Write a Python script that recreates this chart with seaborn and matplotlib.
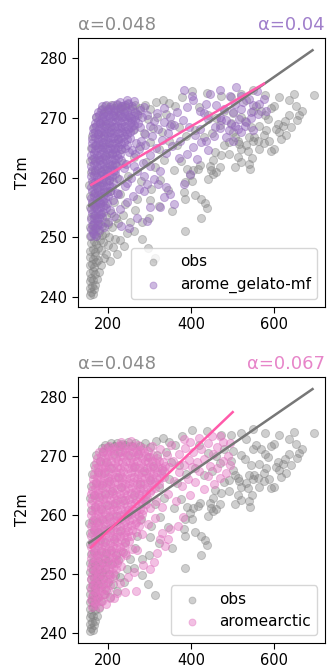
import matplotlib
matplotlib.use("Agg")
import matplotlib.pyplot as plt
import seaborn as sns
import pandas as pd

# ---------- data ----------
# observed points (same cloud in both panels): (x, T2m)
obs_pts = [
    (156, 240.4), (159, 240.9), (163, 240.6), (157, 241.6), (161, 241.9), (166, 241.4), (170, 242.1),
    (156, 242.7), (160, 243.2), (165, 242.9), (174, 243.0), (158, 244.1), (163, 244.4), (168, 243.9),
    (179, 244.2), (156, 245.3), (161, 245.6), (167, 245.1), (172, 245.8), (184, 245.4), (158, 246.7),
    (164, 246.4), (170, 246.9), (177, 246.2), (190, 246.6), (157, 247.8), (163, 248.1), (169, 247.6),
    (175, 248.3), (183, 247.9), (196, 247.3), (205, 246.1), (160, 249.1), (166, 249.4), (172, 248.9),
    (180, 249.6), (188, 249.2), (199, 248.7), (211, 248.4), (222, 247.2), (158, 250.3), (164, 250.7),
    (171, 250.2), (178, 250.9), (186, 250.4), (194, 250.8), (203, 250.1), (216, 249.8), (229, 249.5),
    (238, 248.6), (157, 251.8), (163, 252.1), (170, 251.6), (177, 252.3), (185, 251.9), (192, 252.5),
    (201, 252.2), (210, 251.7), (224, 252.4), (246, 250.8), (263, 251.1), (283, 249.8), (296, 248.3),
    (312, 246.5), (159, 253.4), (166, 253.7), (174, 253.2), (183, 253.9), (195, 253.6), (208, 254.1),
    (220, 253.2), (236, 253.8), (252, 252.6), (298, 253.3), (354, 254.4), (386, 251.1), (156, 255.1),
    (162, 255.5), (170, 255.2), (180, 255.8), (193, 255.4), (214, 255.9), (240, 255.5), (270, 256.4),
    (158, 257.0), (166, 257.4), (176, 257.1), (190, 257.6), (206, 257.8), (228, 257.3), (155, 258.7),
    (163, 259.1), (173, 258.8), (186, 259.3), (202, 259.6), (222, 259.9), (248, 260.2), (160, 260.9),
    (170, 261.3), (184, 261.0), (198, 261.7), (216, 262.1), (236, 262.5), (262, 263.4), (158, 262.8),
    (167, 263.3), (179, 263.0), (193, 263.6), (210, 264.1), (232, 264.8), (160, 264.9), (171, 265.4),
    (186, 265.1), (203, 265.8), (224, 266.4), (162, 266.9), (175, 267.3), (191, 267.1), (208, 267.9),
    (166, 268.5), (180, 269.2), (196, 268.9), (172, 270.1), (188, 270.6), (214, 270.3), (185, 271.4),
    (193, 271.9), (200, 271.5), (207, 272.1), (214, 271.7), (221, 272.2), (228, 271.6), (235, 272.0),
    (242, 271.8), (249, 272.3), (257, 271.6), (266, 272.1), (276, 271.7), (288, 272.2), (301, 271.5),
    (316, 272.6), (332, 273.0), (348, 272.4), (362, 271.9), (378, 273.4), (230, 270.6), (250, 270.2),
    (272, 270.4), (296, 269.8), (318, 270.1), (340, 270.7), (262, 268.1), (286, 267.4), (308, 268.3),
    (330, 267.6), (352, 269.0), (372, 268.4), (278, 265.2), (300, 265.9), (322, 264.7), (346, 266.1),
    (366, 265.4), (388, 266.9), (292, 262.6), (314, 261.8), (336, 262.9), (358, 261.2), (376, 262.7),
    (280, 259.4), (304, 258.1), (326, 259.6), (344, 257.9), (300, 256.2), (322, 255.2), (266, 254.5),
    (283, 252.6),
    (401, 274.4), (439, 274.2), (473, 273.6), (497, 273.5), (521, 273.9), (550, 274.6), (578, 273.8),
    (612, 273.5), (647, 274.0), (695, 273.8), (636, 272.9), (652, 272.0), (667, 271.1), (600, 272.0),
    (592, 271.6), (568, 271.2), (550, 271.2), (532, 272.9), (636, 270.4), (626, 269.4), (620, 268.7),
    (610, 269.0), (604, 268.2), (628, 267.1), (612, 267.6), (578, 270.4), (584, 269.8), (564, 268.7),
    (580, 267.9), (576, 267.1), (588, 266.1), (552, 266.8), (560, 266.2), (550, 266.1), (540, 266.8),
    (564, 264.8), (592, 264.5), (531, 265.4), (515, 265.7), (521, 264.8), (536, 264.5), (547, 263.3),
    (501, 267.6), (505, 266.8), (512, 266.2), (490, 266.0), (478, 265.5), (530, 269.5), (545, 268.5),
    (520, 270.2), (555, 271.9), (457, 264.2), (473, 263.7), (491, 264.0), (512, 263.4), (453, 262.9),
    (469, 261.8), (445, 262.0), (449, 261.2), (441, 259.8), (421, 262.1), (417, 261.5), (453, 260.6),
    (460, 261.0), (505, 261.8), (540, 262.3), (542, 261.4), (520, 262.6), (405, 261.2), (390, 261.4),
    (398, 260.4), (386, 259.3), (402, 259.4), (382, 257.6), (386, 256.4), (409, 257.1), (425, 256.4),
    (433, 255.8), (439, 254.9), (425, 253.2), (460, 270.0), (480, 271.2), (440, 270.5), (420, 271.8),
    (500, 270.8), (470, 268.8), (450, 267.5), (430, 266.8), (410, 268.0), (495, 269.2), (615, 266.5),
    (660, 270.5), (655, 269.6), (640, 268.4), (575, 265.8), (600, 264.8),
]

# arome_gelato-mf points
gelato_pts = [
    (160, 250.3), (166, 250.6), (171, 250.2),
    (159, 251.4), (165, 251.1), (172, 251.5), (178, 251.2), (190, 251.8), (231, 251.9),
    (161, 252.1), (167, 252.4), (174, 252.0), (181, 252.3), (199, 252.6), (251, 251.6), (294, 252.8),
    (160, 253.0), (166, 253.3), (173, 252.9), (179, 253.2), (186, 253.4), (271, 253.3),
    (162, 254.1), (168, 253.8), (175, 254.2), (182, 253.9), (189, 254.3), (205, 254.6),
    (160, 254.8), (167, 255.1), (174, 254.7), (181, 255.0), (188, 255.2), (195, 254.9), (302, 255.0),
    (326, 255.0), (358, 255.6),
    (161, 255.9), (168, 255.6), (175, 256.0), (182, 255.7), (189, 256.1), (197, 255.8), (212, 256.2),
    (160, 256.6), (166, 256.9), (173, 256.5), (180, 256.8), (187, 257.0), (194, 256.6), (201, 256.9),
    (334, 256.7), (350, 257.2),
    (162, 257.7), (169, 257.4), (176, 257.8), (183, 257.5), (190, 257.9), (197, 257.6), (204, 257.8),
    (222, 257.4), (287, 257.8),
    (160, 258.4), (167, 258.7), (174, 258.3), (181, 258.6), (188, 258.8), (195, 258.4), (202, 258.7),
    (210, 258.5), (382, 258.9),
    (161, 259.5), (168, 259.2), (175, 259.6), (182, 259.3), (189, 259.7), (196, 259.4), (203, 259.6),
    (211, 259.3), (226, 259.8), (246, 259.1),
    (160, 260.2), (167, 260.5), (174, 260.1), (181, 260.4), (188, 260.6), (195, 260.2), (202, 260.5),
    (209, 260.3), (216, 260.6), (398, 260.6),
    (162, 261.3), (169, 261.0), (176, 261.4), (183, 261.1), (190, 261.5), (197, 261.2), (204, 261.4),
    (211, 261.1), (218, 261.3), (238, 261.6),
    (160, 262.0), (167, 262.3), (174, 261.9), (181, 262.2), (188, 262.4), (195, 262.0), (202, 262.3),
    (209, 262.1), (216, 262.4), (223, 262.0), (244, 262.3), (262, 261.9),
    (161, 263.1), (168, 262.8), (175, 263.2), (182, 262.9), (189, 263.3), (196, 263.0), (203, 263.2),
    (210, 262.9), (217, 263.1), (224, 263.3), (232, 262.9), (413, 263.1),
    (160, 263.8), (167, 264.1), (174, 263.7), (181, 264.0), (188, 264.2), (195, 263.8), (202, 264.1),
    (209, 263.9), (216, 264.2), (223, 263.8), (230, 264.0), (250, 264.3), (390, 264.0),
    (162, 264.9), (169, 264.6), (176, 265.0), (183, 264.7), (190, 265.1), (197, 264.8), (204, 265.0),
    (211, 264.7), (218, 264.9), (225, 265.1), (232, 264.7), (240, 265.0), (258, 264.6), (405, 265.1),
    (161, 265.8), (168, 265.5), (175, 265.9), (182, 265.6), (189, 266.0), (196, 265.7), (203, 265.9),
    (210, 265.6), (217, 265.8), (224, 266.0), (231, 265.6), (238, 265.9), (246, 265.5), (268, 265.8),
    (280, 266.1),
    (162, 266.5), (169, 266.8), (176, 266.4), (183, 266.7), (190, 266.9), (197, 266.5), (204, 266.8),
    (211, 266.6), (218, 266.9), (225, 266.5), (232, 266.7), (239, 266.9), (246, 266.4), (253, 266.7),
    (374, 266.2), (437, 266.2), (485, 266.8), (501, 266.2),
    (163, 267.4), (170, 267.7), (177, 267.3), (184, 267.6), (191, 267.8), (198, 267.4), (205, 267.7),
    (212, 267.5), (219, 267.8), (226, 267.4), (233, 267.6), (240, 267.8), (247, 267.3), (254, 267.6),
    (261, 267.9), (290, 267.3), (548, 267.9),
    (165, 268.3), (172, 268.6), (179, 268.2), (186, 268.5), (193, 268.7), (200, 268.3), (207, 268.6),
    (214, 268.4), (221, 268.7), (228, 268.3), (235, 268.5), (242, 268.7), (249, 268.2), (256, 268.5),
    (263, 268.8), (276, 268.4), (300, 268.6), (421, 268.2), (457, 268.4), (512, 268.2),
    (168, 269.2), (175, 269.5), (182, 269.1), (189, 269.4), (196, 269.6), (203, 269.2), (210, 269.5),
    (217, 269.3), (224, 269.6), (231, 269.2), (238, 269.4), (245, 269.6), (252, 269.1), (259, 269.4),
    (266, 269.7), (273, 269.2), (310, 269.5), (441, 269.8), (473, 269.6), (497, 269.0), (532, 269.3),
    (171, 270.1), (178, 270.4), (185, 270.0), (192, 270.3), (199, 270.5), (206, 270.1), (213, 270.4),
    (220, 270.2), (227, 270.5), (234, 270.1), (241, 270.3), (248, 270.5), (255, 270.0), (262, 270.3),
    (269, 270.6), (282, 270.2), (295, 270.4),
    (176, 271.0), (183, 271.3), (190, 270.9), (197, 271.2), (204, 271.4), (211, 271.0), (218, 271.3),
    (225, 271.1), (232, 271.4), (239, 271.0), (246, 271.2), (253, 271.4), (264, 270.9), (278, 271.3),
    (390, 271.8), (421, 271.2), (544, 270.9), (580, 271.2), (520, 271.5),
    (186, 271.9), (195, 272.2), (204, 271.8), (213, 272.1), (222, 272.3), (231, 271.9), (240, 272.2),
    (249, 272.4), (258, 272.0), (286, 271.8), (437, 272.3), (564, 272.3),
    (228, 272.7), (245, 273.0), (262, 272.8), (405, 272.9), (540, 273.2), (493, 273.7), (521, 273.7),
    (401, 273.7), (445, 274.0), (469, 274.6), (509, 275.1), (382, 274.6), (558, 274.4),
    (285, 262.5), (300, 263.8), (315, 265.0), (330, 266.3), (345, 267.5), (360, 268.8), (318, 270.8),
    (335, 271.6), (350, 270.2), (365, 271.0), (380, 269.7), (395, 268.5), (410, 267.2), (425, 265.9),
    (440, 264.6), (455, 266.9), (470, 268.3), (485, 269.7), (500, 270.9), (515, 269.8), (530, 268.6),
    (545, 269.9), (560, 270.6), (575, 273.1), (430, 270.8), (460, 272.2), (480, 271.5), (550, 272.1),
    (525, 272.7), (505, 272.3), (470, 270.2), (490, 267.9), (505, 268.7), (520, 267.6), (340, 264.1),
    (355, 265.2), (370, 263.2), (325, 261.1), (310, 259.8), (295, 258.9), (275, 258.1), (260, 256.9),
    (245, 255.9), (230, 254.7), (215, 253.6), (270, 261.1), (255, 259.9), (240, 258.6), (225, 257.2),
    (302, 261.9), (287, 260.3), (320, 259.0), (340, 258.4), (265, 263.9), (275, 264.8), (290, 265.4),
    (305, 266.9), (320, 268.1), (335, 269.3), (350, 268.6),
]

# aromearctic points
arctic_pts = [
    (162, 244.5), (170, 244.8), (178, 244.4),
    (160, 245.6), (168, 245.3), (176, 245.7), (185, 245.4), (215, 245.9),
    (161, 246.3), (169, 246.6), (177, 246.2), (186, 246.5), (194, 246.7),
    (160, 247.4), (168, 247.1), (176, 247.5), (184, 247.2), (193, 247.6), (201, 247.3), (267, 247.2),
    (162, 248.1), (170, 248.4), (178, 248.0), (187, 248.3), (196, 248.5), (205, 248.2),
    (160, 249.2), (168, 248.9), (176, 249.3), (184, 249.0), (193, 249.4), (202, 249.1), (211, 249.3),
    (248, 249.5),
    (161, 249.9), (169, 250.2), (177, 249.8), (186, 250.1), (195, 250.3), (204, 249.9), (213, 250.2),
    (262, 250.4),
    (160, 251.0), (168, 250.7), (176, 251.1), (184, 250.8), (193, 251.2), (202, 250.9), (211, 251.1),
    (220, 250.8), (232, 251.3),
    (162, 251.7), (170, 252.0), (178, 251.6), (187, 251.9), (196, 252.1), (205, 251.7), (214, 252.0),
    (223, 251.8), (310, 252.0),
    (160, 252.8), (168, 252.5), (176, 252.9), (184, 252.6), (193, 253.0), (202, 252.7), (211, 252.9),
    (220, 252.6), (229, 252.8), (244, 253.2),
    (161, 253.5), (169, 253.8), (177, 253.4), (186, 253.7), (195, 253.9), (204, 253.5), (213, 253.8),
    (222, 253.6), (231, 253.9), (240, 253.5), (270, 254.1),
    (160, 254.6), (168, 254.3), (176, 254.7), (184, 254.4), (193, 254.8), (202, 254.5), (211, 254.7),
    (220, 254.4), (229, 254.6), (238, 254.8), (258, 254.3), (338, 254.8),
    (162, 255.3), (170, 255.6), (178, 255.2), (187, 255.5), (196, 255.7), (205, 255.3), (214, 255.6),
    (223, 255.4), (232, 255.7), (241, 255.3), (250, 255.6), (326, 255.9),
    (160, 256.4), (168, 256.1), (176, 256.5), (184, 256.2), (193, 256.6), (202, 256.3), (211, 256.5),
    (220, 256.2), (229, 256.4), (238, 256.6), (247, 256.2), (256, 256.5), (282, 256.8),
    (161, 257.1), (169, 257.4), (177, 257.0), (186, 257.3), (195, 257.5), (204, 257.1), (213, 257.4),
    (222, 257.2), (231, 257.5), (240, 257.1), (249, 257.3), (258, 257.5), (267, 257.1), (350, 257.6),
    (368, 258.2),
    (160, 258.2), (168, 257.9), (176, 258.3), (184, 258.0), (193, 258.4), (202, 258.1), (211, 258.3),
    (220, 258.0), (229, 258.2), (238, 258.4), (247, 258.0), (256, 258.3), (265, 258.5), (274, 258.1),
    (296, 258.4),
    (162, 258.9), (170, 259.2), (178, 258.8), (187, 259.1), (196, 259.3), (205, 258.9), (214, 259.2),
    (223, 259.0), (232, 259.3), (241, 258.9), (250, 259.1), (259, 259.3), (268, 258.9), (277, 259.2),
    (312, 259.5), (380, 259.6),
    (160, 260.0), (168, 259.7), (176, 260.1), (184, 259.8), (193, 260.2), (202, 259.9), (211, 260.1),
    (220, 259.8), (229, 260.0), (238, 260.2), (247, 259.8), (256, 260.1), (265, 260.3), (274, 259.9),
    (283, 260.2),
    (161, 260.7), (169, 261.0), (177, 260.6), (186, 260.9), (195, 261.1), (204, 260.7), (213, 261.0),
    (222, 260.8), (231, 261.1), (240, 260.7), (249, 260.9), (258, 261.1), (267, 260.7), (276, 261.0),
    (285, 260.8), (300, 261.2), (330, 261.4),
    (160, 261.8), (168, 261.5), (176, 261.9), (184, 261.6), (193, 262.0), (202, 261.7), (211, 261.9),
    (220, 261.6), (229, 261.8), (238, 262.0), (247, 261.6), (256, 261.9), (265, 262.1), (274, 261.7),
    (283, 262.0), (292, 261.8), (364, 262.3),
    (162, 262.5), (170, 262.8), (178, 262.4), (187, 262.7), (196, 262.9), (205, 262.5), (214, 262.8),
    (223, 262.6), (232, 262.9), (241, 262.5), (250, 262.7), (259, 262.9), (268, 262.5), (277, 262.8),
    (286, 262.6), (295, 262.9), (315, 262.4),
    (160, 263.6), (168, 263.3), (176, 263.7), (184, 263.4), (193, 263.8), (202, 263.5), (211, 263.7),
    (220, 263.4), (229, 263.6), (238, 263.8), (247, 263.4), (256, 263.7), (265, 263.9), (274, 263.5),
    (283, 263.8), (292, 263.6), (301, 263.9), (345, 263.5), (398, 263.4),
    (161, 264.3), (169, 264.6), (177, 264.2), (186, 264.5), (195, 264.7), (204, 264.3), (213, 264.6),
    (222, 264.4), (231, 264.7), (240, 264.3), (249, 264.5), (258, 264.7), (267, 264.3), (276, 264.6),
    (285, 264.4), (294, 264.7), (303, 264.3), (312, 264.6), (378, 264.9), (430, 264.4),
    (163, 265.2), (171, 265.5), (179, 265.1), (188, 265.4), (197, 265.6), (206, 265.2), (215, 265.5),
    (224, 265.3), (233, 265.6), (242, 265.2), (251, 265.4), (260, 265.6), (269, 265.2), (278, 265.5),
    (287, 265.3), (296, 265.6), (305, 265.2), (314, 265.5), (323, 265.3), (360, 265.7), (410, 265.6),
    (455, 265.3),
    (165, 266.1), (173, 266.4), (181, 266.0), (190, 266.3), (199, 266.5), (208, 266.1), (217, 266.4),
    (226, 266.2), (235, 266.5), (244, 266.1), (253, 266.3), (262, 266.5), (271, 266.1), (280, 266.4),
    (289, 266.2), (298, 266.5), (307, 266.1), (316, 266.4), (325, 266.2), (334, 266.5), (392, 266.1),
    (440, 266.6), (470, 266.3),
    (167, 267.0), (175, 267.3), (183, 266.9), (192, 267.2), (201, 267.4), (210, 267.0), (219, 267.3),
    (228, 267.1), (237, 267.4), (246, 267.0), (255, 267.2), (264, 267.4), (273, 267.0), (282, 267.3),
    (291, 267.1), (300, 267.4), (309, 267.0), (318, 267.3), (327, 267.1), (336, 267.4), (370, 267.2),
    (420, 267.5), (485, 267.1),
    (169, 267.9), (177, 268.2), (185, 267.8), (194, 268.1), (203, 268.3), (212, 267.9), (221, 268.2),
    (230, 268.0), (239, 268.3), (248, 267.9), (257, 268.1), (266, 268.3), (275, 267.9), (284, 268.2),
    (293, 268.0), (302, 268.3), (311, 267.9), (320, 268.2), (329, 268.0), (338, 268.3), (348, 268.1),
    (384, 268.4), (402, 268.1), (445, 268.3), (462, 267.9), (493, 268.5),
    (171, 268.8), (180, 269.1), (189, 268.7), (198, 269.0), (207, 269.2), (216, 268.8), (225, 269.1),
    (234, 268.9), (243, 269.2), (252, 268.8), (261, 269.0), (270, 269.2), (279, 268.8), (288, 269.1),
    (297, 268.9), (306, 269.2), (315, 268.8), (324, 269.1), (333, 268.9), (356, 269.2), (394, 269.3),
    (415, 268.9), (432, 269.4), (476, 269.1),
    (174, 269.7), (183, 270.0), (192, 269.6), (201, 269.9), (210, 270.1), (219, 269.7), (228, 270.0),
    (237, 269.8), (246, 270.1), (255, 269.7), (264, 269.9), (273, 270.1), (282, 269.7), (291, 270.0),
    (300, 269.8), (309, 270.1), (318, 269.7), (342, 270.2), (372, 270.4), (404, 270.6), (452, 270.3),
    (488, 270.0),
    (179, 270.6), (188, 270.9), (197, 270.5), (206, 270.8), (215, 271.0), (224, 270.6), (233, 270.9),
    (242, 270.7), (251, 271.0), (260, 270.6), (269, 270.8), (278, 271.0), (287, 270.6), (296, 270.9),
    (326, 271.1), (386, 271.4), (424, 271.2), (462, 271.5),
    (192, 271.4), (202, 271.7), (212, 271.3), (222, 271.6), (232, 271.8), (242, 271.4), (252, 271.7),
    (262, 271.5), (272, 271.8), (284, 271.4), (305, 271.6), (352, 271.9), (398, 272.3), (440, 272.1),
    (476, 272.4), (494, 272.2),
    (232, 272.4), (256, 272.5), (418, 273.1), (450, 273.3), (384, 272.9), (470, 273.4),
    (330, 257.0), (345, 256.0), (318, 253.5), (300, 250.8), (285, 251.5), (230, 248.5), (240, 247.0),
    (222, 246.8), (205, 245.9), (196, 244.9),
]

# fitted lines (end points) and slope labels
obs_fit_x = [155, 692]
obs_fit_y = [255.3, 281.3]
gelato_fit_x = [160, 575]
gelato_fit_y = [258.8, 275.7]
arctic_fit_x = [159, 500]
arctic_fit_y = [254.5, 277.4]
obs_alpha = "0.048"
gelato_alpha = "0.04"
arctic_alpha = "0.067"

GRAY = "#7f7f7f"
PURPLE = "#9467bd"
PINK = "#e377c2"
LINE_PINK = "#ff5aaa"

obs = pd.DataFrame(obs_pts, columns=["x", "T2m"])
gelato = pd.DataFrame(gelato_pts, columns=["x", "T2m"])
arctic = pd.DataFrame(arctic_pts, columns=["x", "T2m"])

fig = plt.figure(figsize=(3.27, 6.69), dpi=100)
ax1 = fig.add_axes([0.2385, 0.5411, 0.7554, 0.4021])
ax2 = fig.add_axes([0.2385, 0.0389, 0.7554, 0.3976])

panels = [
    (ax1, "arome_gelato-mf", gelato, gelato_fit_x, gelato_fit_y, gelato_alpha, PURPLE, "#a07fcb"),
    (ax2, "aromearctic", arctic, arctic_fit_x, arctic_fit_y, arctic_alpha, PINK, "#e785c9"),
]

for ax, name, df, fx, fy, a, col, title_col in panels:
    sns.scatterplot(data=obs, x="x", y="T2m", color=GRAY, edgecolor=GRAY, s=34,
                    linewidth=0.7, alpha=0.38, label="obs", ax=ax)
    sns.scatterplot(data=df, x="x", y="T2m", color=col, edgecolor=col, s=34,
                    linewidth=0.7, alpha=0.46, label=name, ax=ax)
    sns.lineplot(x=obs_fit_x, y=obs_fit_y, color="#777777", linewidth=1.8, ax=ax)
    sns.lineplot(x=fx, y=fy, color=LINE_PINK, linewidth=1.8, ax=ax)

    ax.set_title(f"α={obs_alpha}", loc="left", color="#8c8c8c", fontsize=13)
    ax.set_title(f"α={a}", loc="right", color=title_col, fontsize=13)
    ax.set_xlabel("")
    ax.set_ylabel("T2m", fontsize=10.5, labelpad=7)
    ax.set_xticks([200, 400, 600])
    ax.set_yticks([240, 250, 260, 270, 280])
    ax.tick_params(labelsize=10.5, length=4, pad=3.5)
    ax.legend(loc="lower right", fontsize=11, markerscale=0.85)

fig.savefig("out.png", dpi=100)
